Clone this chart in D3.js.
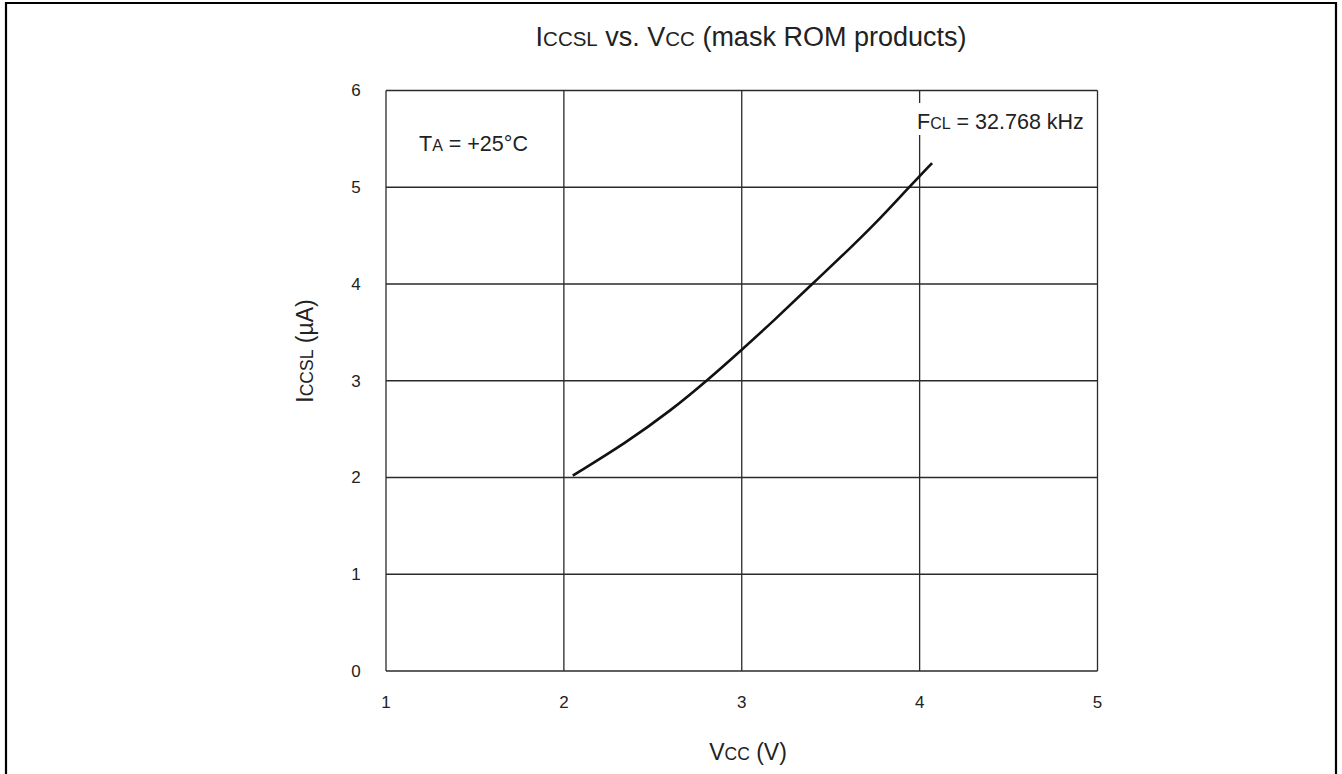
<!DOCTYPE html>
<html>
<head>
<meta charset="utf-8">
<script src="https://cdn.jsdelivr.net/npm/d3@7"></script>
<style>
  html, body { margin: 0; padding: 0; background: #fff; }
  svg { display: block; font-family: "Liberation Sans", Arial, Helvetica, sans-serif; }
</style>
</head>
<body>
<svg id="chart" width="1342" height="774"></svg>
<script>
// ---- data ----
const vcc   = [2.05, 2.35, 2.60, 2.81, 3.00, 3.18, 3.39, 3.61, 3.78, 3.93, 4.07];
const iccsl = [2.02, 2.36, 2.69, 3.01, 3.32, 3.62, 3.99, 4.37, 4.68, 4.98, 5.25];
const xTicks = [1, 2, 3, 4, 5];
const yTicks = [0, 1, 2, 3, 4, 5, 6];

const svg = d3.select("#chart");
const gridColor = "#2a2a2a";

// outer frame (top, left, right)
svg.append("path")
  .attr("d", "M6,776 V3 H1336 V776")
  .attr("fill", "none").attr("stroke", "#000").attr("stroke-width", 2.2);

const x = d3.scaleLinear().domain([1, 5]).range([386, 1097.5]);
const y = d3.scaleLinear().domain([0, 6]).range([671, 90.5]);

// grid lines
svg.append("g").selectAll("line.v").data(xTicks).join("line")
  .attr("x1", d => x(d)).attr("x2", d => x(d))
  .attr("y1", y(0)).attr("y2", y(6))
  .attr("stroke", gridColor).attr("stroke-width", 1.3);
svg.append("g").selectAll("line.h").data(yTicks).join("line")
  .attr("x1", x(1)).attr("x2", x(5))
  .attr("y1", d => y(d)).attr("y2", d => y(d))
  .attr("stroke", gridColor).attr("stroke-width", 1.3);

// tick labels
svg.append("g").selectAll("text").data(xTicks).join("text")
  .attr("x", d => x(d)).attr("y", 708)
  .attr("text-anchor", "middle").attr("font-size", 17).attr("fill", "#222")
  .text(d => d);
svg.append("g").selectAll("text").data(yTicks).join("text")
  .attr("x", 356).attr("y", d => y(d)).attr("dy", "0.35em")
  .attr("text-anchor", "middle").attr("font-size", 17).attr("fill", "#222")
  .text(d => d);

// annotation box for FCL (hides the grid line behind)
svg.append("rect").attr("x", 913).attr("y", 103).attr("width", 176).attr("height", 32).attr("fill", "#fff");

function subText(sel, parts, big, small) {
  parts.forEach(p => {
    sel.append("tspan").attr("font-size", p[1] ? small : big).text(p[0]);
  });
}

const fcl = svg.append("text").attr("x", 917).attr("y", 128.5).attr("fill", "#222");
subText(fcl, [["F", 0], ["CL", 1], [" = 32.768 kHz", 0]], 21.5, 16);

const ta = svg.append("text").attr("x", 419).attr("y", 151).attr("fill", "#222");
subText(ta, [["T", 0], ["A", 1], [" = +25°C", 0]], 21.5, 16);

// title
const title = svg.append("text").attr("x", 751).attr("y", 46).attr("text-anchor", "middle").attr("fill", "#222");
subText(title, [["I", 0], ["CCSL", 1], [" vs. V", 0], ["CC", 1], [" (mask ROM products)", 0]], 27, 20.5);

// axis titles
const xl = svg.append("text").attr("x", 748).attr("y", 760).attr("text-anchor", "middle").attr("fill", "#222");
subText(xl, [["V", 0], ["CC", 1], [" (V)", 0]], 23, 17.5);

const yl = svg.append("text").attr("transform", "translate(313,351) rotate(-90)")
  .attr("text-anchor", "middle").attr("fill", "#222");
subText(yl, [["I", 0], ["CCSL", 1], [" (µA)", 0]], 23, 17.5);

// curve
const pts = vcc.map((v, i) => [v, iccsl[i]]);
svg.append("path")
  .datum(pts)
  .attr("d", d3.line().x(d => x(d[0])).y(d => y(d[1])).curve(d3.curveBasis))
  .attr("fill", "none").attr("stroke", "#111").attr("stroke-width", 2.6);
</script>
</body>
</html>
